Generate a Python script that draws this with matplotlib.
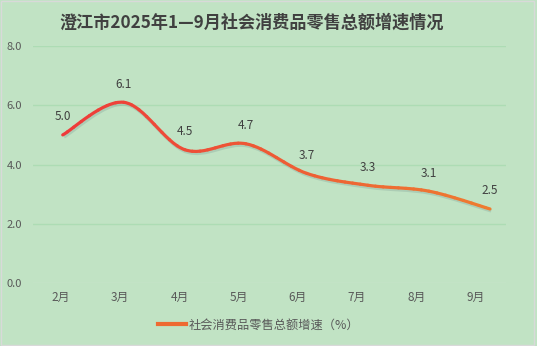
import matplotlib.pyplot as plt
import matplotlib.patches as mpatches
import matplotlib.transforms as mtrans
from matplotlib.path import Path
from matplotlib.lines import Line2D
import numpy as np

plt.rcParams['font.family'] = ['Noto Sans CJK SC', 'DejaVu Sans']

months = ['2月', '3月', '4月', '5月', '6月', '7月', '8月', '9月']
growth = [5.0, 6.1, 4.5, 4.7, 3.7, 3.3, 3.1, 2.5]
yticks = [0.0, 2.0, 4.0, 6.0, 8.0]
title = '澄江市2025年1—9月社会消费品零售总额增速情况'
series_name = '社会消费品零售总额增速（%）'

bg = '#C1E3C4'
red = np.array([0xEE, 0x3A, 0x3A]) / 255
orange = np.array([0xEE, 0x7C, 0x30]) / 255


def split_cubic(p, n):
    # cut one bezier into n pieces (de Casteljau)
    pieces = []
    rest = p
    for k in range(n, 0, -1):
        t = 1.0 / k
        a = rest[0] + (rest[1] - rest[0]) * t
        b = rest[1] + (rest[2] - rest[1]) * t
        c = rest[2] + (rest[3] - rest[2]) * t
        ab = a + (b - a) * t
        bc = b + (c - b) * t
        m = ab + (bc - ab) * t
        pieces.append([rest[0], a, ab, m])
        rest = [m, bc, c, rest[3]]
    return pieces


fig = plt.figure(figsize=(5.37, 3.46), dpi=100)
fig.patch.set_facecolor(bg)
ax = fig.add_axes([0.0615, 0.182, 0.8805, 0.685])
ax.set_facecolor(bg)

x = np.arange(len(growth))
ax.set_xlim(-0.487, 7.26)
ax.set_ylim(0, 8)

for v in yticks:
    ax.axhline(v, color='#ADDCB4' if v > 0 else '#CFE8D0', lw=1.0, zorder=1)

# smooth line as bezier pieces (catmull-rom style control points)
pts = np.column_stack([x, growth]).astype(float)
ext = np.vstack([pts[0], pts, pts[-1]])
segs = []
for i in range(len(pts) - 1):
    p0, p1, p2, p3 = ext[i], ext[i + 1], ext[i + 2], ext[i + 3]
    segs.append([p1, p1 + (p2 - p0) / 6, p2 - (p3 - p1) / 6, p2])

verts = [segs[0][0]]
codes = [Path.MOVETO]
for s in segs:
    verts += s[1:]
    codes += [Path.CURVE4] * 3
full = Path(np.array(verts), codes)

shadow_tr = ax.transData + mtrans.ScaledTranslation(1.2 / 100, -2.0 / 100, fig.dpi_scale_trans)
ax.add_patch(mpatches.PathPatch(full, fill=False, lw=2.4, edgecolor='#6E8C8A', alpha=0.25,
                                transform=shadow_tr, zorder=2, capstyle='butt'))

x0, x1 = x[0], x[-1]
for s in segs:
    for piece in split_cubic([np.array(q) for q in s], 8):
        xm = (piece[0][0] + piece[3][0]) / 2
        f = (xm - x0) / (x1 - x0)
        col = red + (orange - red) * f
        ax.add_patch(mpatches.PathPatch(Path(np.array(piece), [Path.MOVETO] + [Path.CURVE4] * 3),
                                        fill=False, lw=2.3, edgecolor=col, zorder=3,
                                        capstyle='round'))

for xi, v in zip(x, growth):
    ax.annotate(f'{v:.1f}', (xi, v), xytext=(0, 13), textcoords='offset points',
                ha='center', va='center', fontsize=8.5, color='#404040', zorder=4)

# category labels sit a little off the data points in the original
tick_pos = -0.028 + x * 0.970
ax.set_xticks(tick_pos)
ax.set_xticklabels(months, fontsize=8.5, color='#595959')
ax.set_yticks(yticks)
ax.set_yticklabels([f'{v:.1f}' for v in yticks], fontsize=8, color='#595959')
ax.tick_params(length=0, pad=6)
ax.tick_params(axis='y', pad=8)
for sp in ax.spines.values():
    sp.set_visible(False)

fig.text(0.468, 0.935, title, ha='center', va='center', fontsize=12.3,
         fontweight='bold', color='#404040')

h = Line2D([], [], color='#EE6A32', lw=3)
fig.legend([h], [series_name], loc='center', bbox_to_anchor=(0.482, 0.06),
           frameon=False, fontsize=8.8, labelcolor='#595959',
           handlelength=2.3, handletextpad=0.2)

fig.add_artist(mpatches.Rectangle((0.001, 0.004), 0.993, 0.993, transform=fig.transFigure,
                                  fill=False, edgecolor='#D9D9D9', lw=1))

plt.savefig('out.png', dpi=100, facecolor=bg)
